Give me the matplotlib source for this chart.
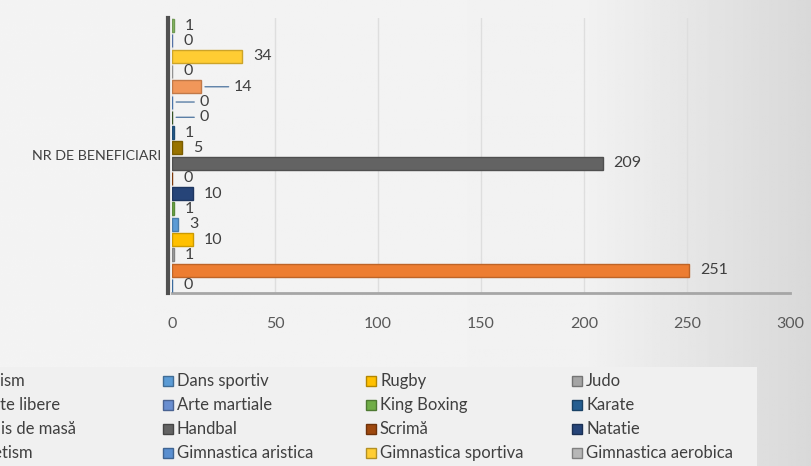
import numpy as np
import matplotlib
matplotlib.use("Agg")
import matplotlib.pyplot as plt
from matplotlib.patches import Rectangle

plt.rcParams['font.family'] = ['Lato', 'DejaVu Sans']

# series in bar order, bottom -> top
names = ['Baschet', 'Fotbal', 'Judo', 'Rugby', 'Dans sportiv', 'King Boxing',
         'Natatie', 'Scrimă', 'Handbal', 'Ciclism', 'Karate', 'Lupte libere',
         'Gimnastica aristica', 'Tenis de masă', 'Gimnastica aerobica',
         'Gimnastica sportiva', 'Arte martiale', 'Atletism']
values = [0, 251, 1, 10, 3, 1, 10, 0, 209, 5, 1, 0, 0, 14, 0, 34, 0, 1]
colors = ['#4a86c5', '#ed7d31', '#a5a5a5', '#ffc000', '#5b9bd5', '#70ad47',
          '#264478', '#9e480e', '#636363', '#997300', '#255e91', '#43682b',
          '#5a8fd0', '#f1975a', '#b7b7b7', '#ffcd33', '#698ed0', '#8cc168']
category = 'NR DE BENEFICIARI'
xticks = [0, 50, 100, 150, 200, 250, 300]

# legend layout as in the slide (4 columns, row by row)
legend_order = ['Ciclism', 'Dans sportiv', 'Rugby', 'Judo',
                'Lupte libere', 'Arte martiale', 'King Boxing', 'Karate',
                'Tenis de masă', 'Handbal', 'Scrimă', 'Natatie',
                'Atletism', 'Gimnastica aristica', 'Gimnastica sportiva', 'Gimnastica aerobica']

W, H = 811, 466
fig = plt.figure(figsize=(W / 100, H / 100), dpi=100)

# background gradient
bg = fig.add_axes([0, 0, 1, 1], zorder=-5)
xs = np.linspace(0, 1, 400)
shade = np.where(xs < 0.72, 0.955 - 0.01 * xs, 0.948 - 0.35 * (xs - 0.72))
bg.imshow(np.tile(shade, (10, 1)), cmap='gray', vmin=0, vmax=1, aspect='auto',
          extent=[0, 1, 0, 1])
bg.add_patch(Rectangle((0, 0), 757 / W, 1 - 367 / H, color='#f0f0f0', lw=0))
bg.set_xlim(0, 1)
bg.set_ylim(0, 1)
bg.axis('off')

ax = fig.add_axes([172 / W, 1 - 293 / H, 618 / W, 275 / H])
ax.patch.set_alpha(0)
ypos = np.arange(len(values))
edge = [matplotlib.colors.to_rgb(c) for c in colors]
edge = [tuple(v * 0.8 for v in e) for e in edge]
bars = ax.barh(ypos, values, height=0.85, color=colors, edgecolor=edge, linewidth=1, zorder=3)

lead = {13: 24, 12: 20, 11: 20}
for i, (b, v) in enumerate(zip(bars, values)):
    off = lead.get(i, 8)
    ax.annotate(str(v), (v, b.get_y() + b.get_height() / 2), xytext=(off, 0),
                textcoords='offset points', ha='left', va='center',
                fontsize=11.5, color='#404040', zorder=5,
                arrowprops=dict(arrowstyle='-', color='#5b7fa6', lw=1,
                                shrinkA=2, shrinkB=3) if i in lead else None)

ax.set_xlim(0, 300)
ax.set_ylim(-0.5, len(values) - 0.5)
ax.set_xticks(xticks)
ax.set_yticks([(len(values) - 1) / 2])
ax.set_yticklabels([category])
ax.tick_params(axis='x', length=0, pad=17, labelsize=11.5, labelcolor='#595959')
ax.tick_params(axis='y', length=0, pad=5, labelsize=10.3, labelcolor='#404040')
ax.grid(axis='x', color='#dedede', lw=1, zorder=0)
for s in ['top', 'right']:
    ax.spines[s].set_visible(False)
ax.spines['left'].set_color('#505050')
ax.spines['left'].set_linewidth(3)
ax.spines['left'].set_position(('outward', 3))
ax.spines['bottom'].set_color('#a6a6a6')
ax.spines['bottom'].set_linewidth(2)

# legend drawn by hand so the first column runs off the left edge, as in the slide
col_x = [-41, 163, 366, 572]
row_y = [381, 405, 429, 453]
lookup = dict(zip(names, colors))
for k, name in enumerate(legend_order):
    c, r = k % 4, k // 4
    x0, y0 = col_x[c], row_y[r]
    col = lookup[name]
    ec = tuple(v * 0.7 for v in matplotlib.colors.to_rgb(col))
    fig.patches.append(Rectangle((x0 / W, 1 - (y0 + 5) / H), 10 / W, 10 / H,
                                 transform=fig.transFigure, facecolor=col,
                                 edgecolor=ec, lw=1))
    fig.text((x0 + 14) / W, 1 - y0 / H, name, ha='left', va='center',
             fontsize=12, color='#404040')

fig.savefig('out.png', dpi=100)
